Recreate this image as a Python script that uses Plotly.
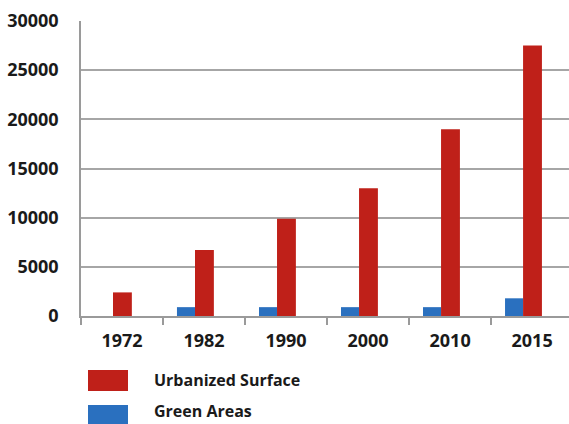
import plotly.graph_objects as go

# Land-cover area by survey year
years = ["1972", "1982", "1990", "2000", "2010", "2015"]
urbanized_surface = [2400, 6700, 9900, 13000, 19000, 27500]
green_areas = [0, 900, 900, 900, 900, 1800]
y_ticks = [0, 5000, 10000, 15000, 20000, 25000, 30000]

RED = "#bf2019"
BLUE = "#2a70bf"
FONT = "Open Sans"

W, H = 569, 424
ML, MR, MT, MB = 81, 0, 21, 108
plot_w = W - ML - MR
plot_h = H - MT - MB

fig = go.Figure()
fig.add_trace(go.Bar(
    x=years, y=green_areas, name="Green Areas",
    marker=dict(color=BLUE, line=dict(width=0)),
    width=0.22, offset=-0.33, showlegend=False,
))
fig.add_trace(go.Bar(
    x=years, y=urbanized_surface, name="Urbanized Surface",
    marker=dict(color=RED, line=dict(width=0)),
    width=0.23, offset=-0.11, showlegend=False,
))

fig.update_layout(
    width=W, height=H,
    margin=dict(l=ML, r=MR, t=MT, b=MB, pad=0),
    paper_bgcolor="white", plot_bgcolor="white",
    barmode="overlay",
    font=dict(family=FONT, size=18, color="#1a1a1a"),
    xaxis=dict(
        type="category", range=[-0.5, 5.45],
        showgrid=False, showline=True, linecolor="#9a9a9a", linewidth=1.5,
        ticks="outside", tickson="boundaries", ticklen=7, tickcolor="#9a9a9a",
        tickwidth=1.5, ticklabelstandoff=8,
        tickfont=dict(family=FONT, size=18, color="#1a1a1a", weight="bold"),
    ),
    yaxis=dict(
        range=[0, 30000], tickvals=y_ticks,
        ticktext=[str(v) for v in y_ticks],
        showgrid=True, gridcolor="#a6a6a6", gridwidth=1.5,
        showline=True, linecolor="#9a9a9a", linewidth=1.5,
        zeroline=False, ticks="", ticklabelstandoff=17,
        tickfont=dict(family=FONT, size=18, color="#1a1a1a", weight="bold"),
    ),
)

# Legend drawn below the plot with large swatches
def px_x(px):
    return (px - ML) / plot_w

def px_y(py):
    return (H - MB - py) / plot_h

legend_items = [
    ("Urbanized Surface", RED, 370, 391, 380),
    ("Green Areas", BLUE, 405, 426, 411),
]
for label, color, top, bottom, text_mid in legend_items:
    fig.add_shape(
        type="rect", xref="paper", yref="paper",
        x0=px_x(88), x1=px_x(128), y0=px_y(bottom), y1=px_y(top),
        fillcolor=color, line=dict(width=0),
    )
    fig.add_annotation(
        xref="paper", yref="paper", x=px_x(153), y=px_y(text_mid),
        text=label, showarrow=False, xanchor="left", yanchor="middle",
        borderpad=0,
        font=dict(family=FONT, size=16, color="#1a1a1a", weight="bold"),
    )

fig.write_html("out.html")
